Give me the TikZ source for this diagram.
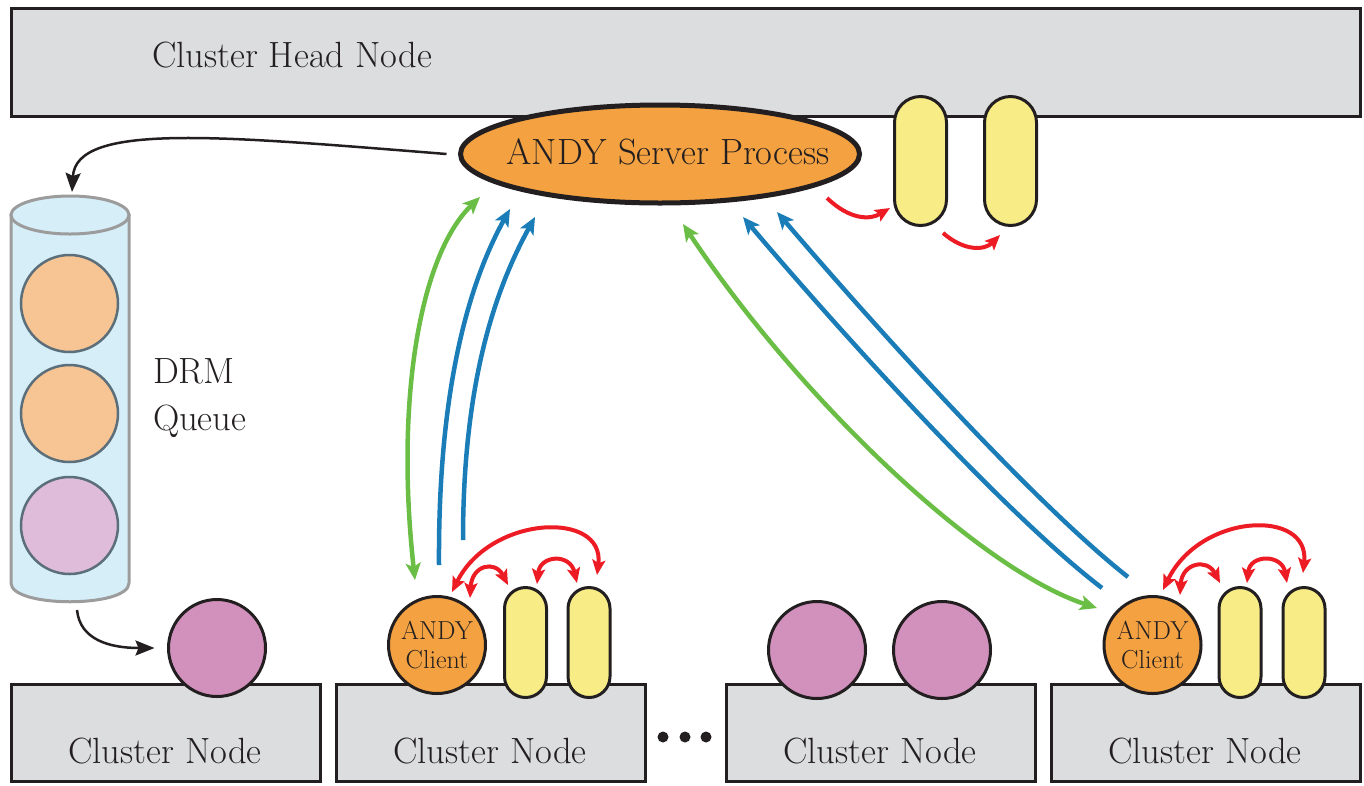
\documentclass[tikz,border=0pt]{standalone}
\usepackage{fontspec}
\usetikzlibrary{arrows.meta,shapes.geometric}
\definecolor{txt}{HTML}{231F20}
\definecolor{boxgray}{HTML}{DCDDDE}
\definecolor{andy}{HTML}{F3A141}
\definecolor{pillyellow}{HTML}{F7EC85}
\definecolor{jobpurple}{HTML}{D291BD}
\definecolor{qorange}{HTML}{F7C594}
\definecolor{qpink}{HTML}{DFBDDA}
\definecolor{qborder}{HTML}{5B6E79}
\definecolor{cylfill}{HTML}{D5EEF8}
\definecolor{cylborder}{HTML}{9C9C9C}
\definecolor{grn}{HTML}{6BBE45}
\definecolor{blu}{HTML}{1A7DB7}
\definecolor{rd}{HTML}{ED1C24}
\begin{document}
\begin{tikzpicture}[x=1pt,y=-1pt,
  every node/.style={inner sep=0pt, outer sep=0pt, text=txt},
  bigtxt/.style={font=\fontsize{36.5}{42}\selectfont},
  smalltxt/.style={font=\fontsize{26}{29}\selectfont},
  box/.style={rectangle, draw=txt, line width=3pt, fill=boxgray},
  toppill/.style={rectangle, draw=txt, line width=3pt, fill=pillyellow, rounded corners=26pt, minimum width=52pt, minimum height=129pt},
  botpill/.style={rectangle, draw=txt, line width=3pt, fill=pillyellow, rounded corners=21pt, minimum width=42pt, minimum height=110pt},
  job/.style={circle, draw=txt, line width=3pt, fill=jobpurple, minimum size=97pt},
  client/.style={circle, draw=txt, line width=3pt, fill=andy, minimum size=97pt, align=center, smalltxt},
  qjob/.style={circle, draw=qborder, line width=2.5pt, minimum size=97pt},
  dot/.style={circle, fill=txt, minimum size=11pt},
  blkarrow/.style={draw=txt, line width=2.5pt, -{Stealth[length=19pt,width=15pt,inset=3pt]}},
  grnarrow/.style={draw=grn, line width=4.5pt, {Stealth[length=17pt,width=15pt,inset=4pt]}-{Stealth[length=17pt,width=15pt,inset=4pt]}},
  bluarrow/.style={draw=blu, line width=4.5pt, -{Stealth[length=17pt,width=15pt,inset=4pt]}},
  redone/.style={draw=rd, line width=4pt, -{Stealth[length=15pt,width=13pt,inset=3pt]}},
  redtwo/.style={draw=rd, line width=4pt, {Stealth[length=15pt,width=13pt,inset=3pt]}-{Stealth[length=15pt,width=13pt,inset=3pt]}}
]
\useasboundingbox (0,0) rectangle (1364,785);

% head node
\node[box, minimum width=1349pt, minimum height=108pt] (head) at (686,62.5) {};
\node[bigtxt, anchor=base west] (headlbl) at (152,67) {Cluster Head Node};

% top capsules
\node[toppill] (tc1) at (920.5,161) {};
\node[toppill] (tc2) at (1010.5,161) {};

% server
\node[ellipse, draw=txt, line width=5pt, fill=andy, minimum width=399pt, minimum height=98pt] (server) at (660,154) {};
\node[bigtxt, anchor=base] (serverlbl) at (668,164) {ANDY Server Process};

% DRM queue cylinder
\filldraw[fill=cylfill, draw=cylborder, line width=3pt]
  (11,215) -- (11,583) .. controls (11,608) and (129,608) .. (129,583) -- (129,215) -- cycle;
\filldraw[fill=cylfill, draw=cylborder, line width=3pt] (70,215) ellipse [x radius=59, y radius=19];
\node[qjob, fill=qorange] (q1) at (69.5,303.5) {};
\node[qjob, fill=qorange] (q2) at (69.5,413.5) {};
\node[qjob, fill=qpink] (q3) at (69.5,525.5) {};
\coordinate (cyltop) at (72,192);
\coordinate (cylbot) at (77,610);
\node[bigtxt, anchor=base west] (drm) at (153,383) {DRM};
\node[bigtxt, anchor=base west] (queue) at (153,430) {Queue};

% bottom cluster nodes
\node[box, minimum width=309pt, minimum height=97pt] (cn1) at (166,733) {};
\node[box, minimum width=309pt, minimum height=97pt] (cn2) at (491,733) {};
\node[box, minimum width=309pt, minimum height=97pt] (cn3) at (881,733) {};
\node[box, minimum width=309pt, minimum height=97pt] (cn4) at (1206,733) {};
\node[bigtxt, anchor=base] (lbl1) at (165,763) {Cluster Node};
\node[bigtxt, anchor=base] (lbl2) at (490,763) {Cluster Node};
\node[bigtxt, anchor=base] (lbl3) at (880,763) {Cluster Node};
\node[bigtxt, anchor=base] (lbl4) at (1205,763) {Cluster Node};

\node[dot] (d1) at (663,737) {};
\node[dot] (d2) at (685,737) {};
\node[dot] (d3) at (706,737) {};

% jobs on nodes
\node[job] (p1) at (217,648) {};
\node[job] (p3a) at (817,650) {};
\node[job] (p3b) at (942,650) {};

\node[client] (cl2) at (437,645) {ANDY\\Client};
\node[botpill] (cap2a) at (525.5,642.5) {};
\node[botpill] (cap2b) at (589,642.5) {};

\node[client] (cl4) at (1152.5,645) {ANDY\\Client};
\node[botpill] (cap4a) at (1240,642.5) {};
\node[botpill] (cap4b) at (1304,642.5) {};

% black arrows
\draw[blkarrow] ([xshift=-14pt]server.west) .. controls (220,136) and (76,122) .. (cyltop);
\draw[blkarrow] (cylbot) .. controls (80,640) and (110,648) .. ([xshift=-14pt]p1.west);

% left group arrows
\coordinate (g2lo) at (415,580);
\coordinate (g2hi) at (480,197);
\coordinate (b2alo) at (439,565);
\coordinate (b2ahi) at (510,209);
\coordinate (b2blo) at (463,540);
\coordinate (b2bhi) at (535,217);
\draw[grnarrow] (g2lo) .. controls (395,400) and (420,255) .. (g2hi);
\draw[bluarrow] (b2alo) .. controls (438,400) and (465,290) .. (b2ahi);
\draw[bluarrow] (b2blo) .. controls (463,390) and (492,295) .. (b2bhi);

% right group arrows
\coordinate (g4lo) at (1097,608);
\coordinate (g4hi) at (683,224);
\coordinate (b4alo) at (1102,588);
\coordinate (b4ahi) at (743,217);
\coordinate (b4blo) at (1128,577);
\coordinate (b4bhi) at (777,212);
\draw[grnarrow] (g4lo) .. controls (980,570) and (800,400) .. (g4hi);
\draw[bluarrow] (b4alo) .. controls (1000,510) and (830,320) .. (b4ahi);
\draw[bluarrow] (b4blo) .. controls (1030,500) and (865,315) .. (b4bhi);

% red arrows near server
\coordinate (r1a) at (827,198);
\coordinate (r1b) at (890,208);
\coordinate (r2a) at (943,233);
\coordinate (r2b) at (1000,235);
\draw[redone] (r1a) .. controls (850,220) and (870,220) .. (r1b);
\draw[redone] (r2a) .. controls (965,252) and (985,250) .. (r2b);

% red arrows node 2
\coordinate (r3a) at (452,592);
\coordinate (r3b) at (597,575);
\coordinate (r4a) at (470,598);
\coordinate (r4b) at (508,585);
\coordinate (r5a) at (537,584);
\coordinate (r5b) at (577,583);
\draw[redtwo] (r3a) .. controls (490,515) and (605,510) .. (r3b);
\draw[redtwo] (r4a) .. controls (472,565) and (495,560) .. (r4b);
\draw[redtwo] (r5a) .. controls (540,555) and (570,553) .. (r5b);

% red arrows node 4
\coordinate (r6a) at (1163,590);
\coordinate (r6b) at (1303,573);
\coordinate (r7a) at (1180,595);
\coordinate (r7b) at (1220,583);
\coordinate (r8a) at (1247,583);
\coordinate (r8b) at (1287,583);
\draw[redtwo] (r6a) .. controls (1200,513) and (1310,508) .. (r6b);
\draw[redtwo] (r7a) .. controls (1182,563) and (1207,558) .. (r7b);
\draw[redtwo] (r8a) .. controls (1250,554) and (1282,554) .. (r8b);
\end{tikzpicture}
\end{document}
